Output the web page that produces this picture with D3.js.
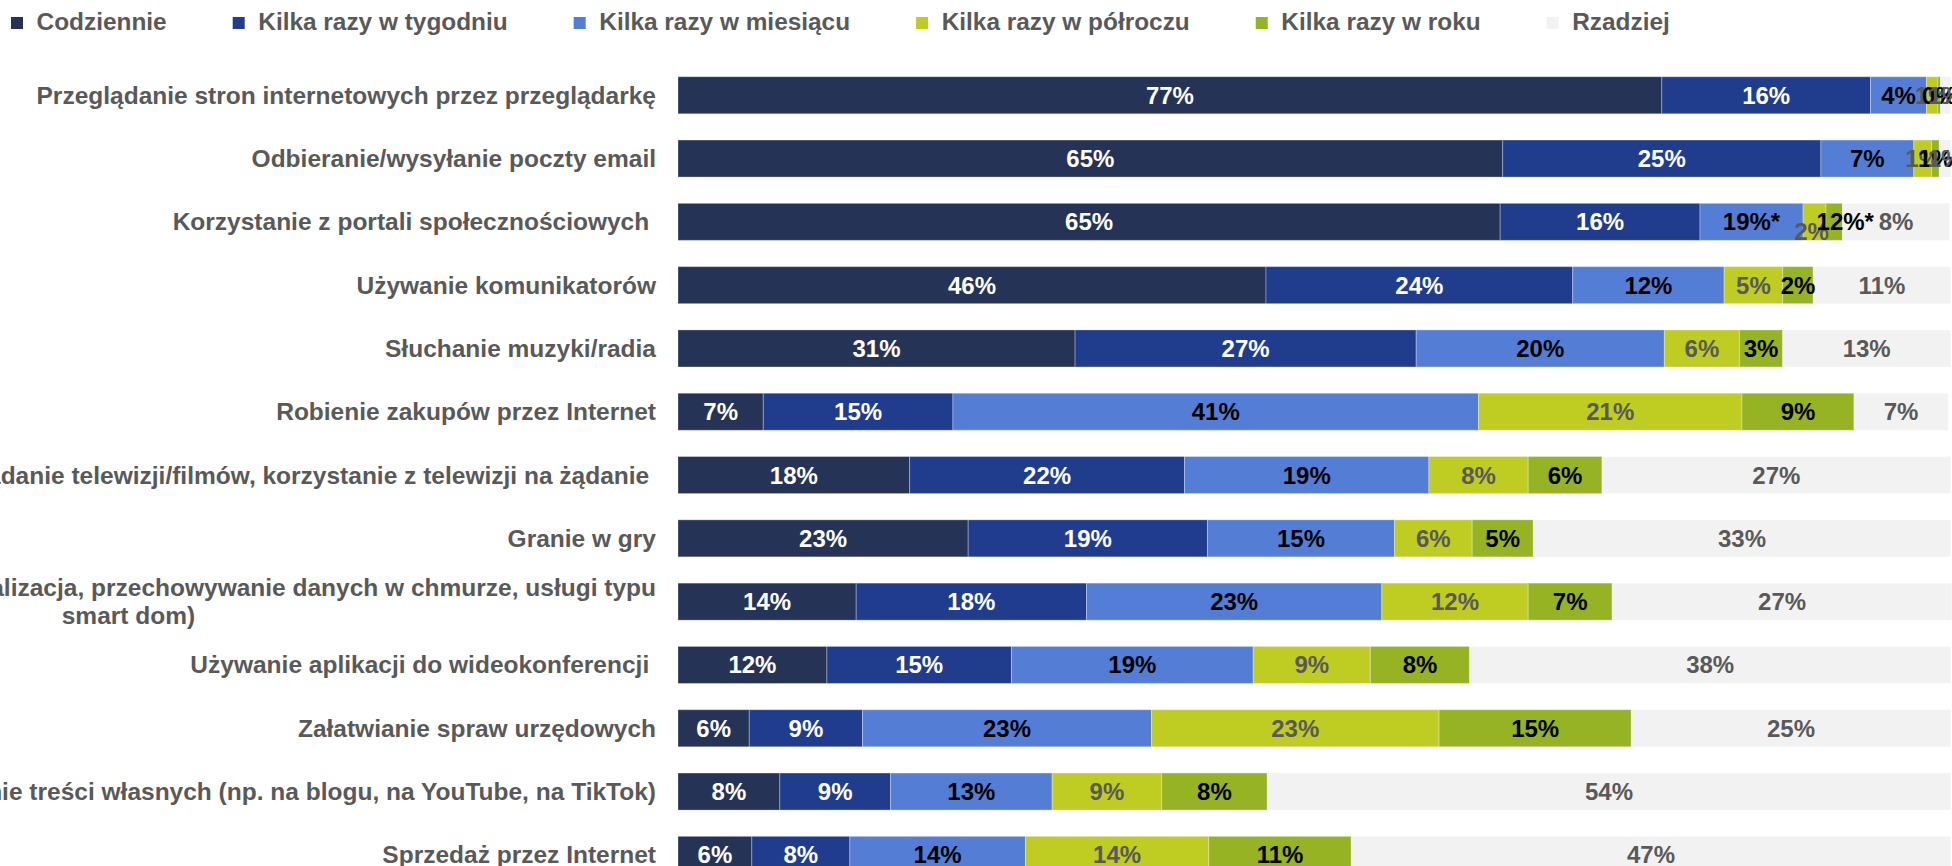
<!DOCTYPE html>
<html>
<head>
<meta charset="utf-8">
<script src="https://cdn.jsdelivr.net/npm/d3@7"></script>
<style>
  body { margin: 0; background: #fff; overflow: hidden; }
  svg text { font-family: "Liberation Sans", Arial, sans-serif; font-weight: bold; }
</style>
</head>
<body>
<svg id="chart" width="1952" height="866"></svg>
<script>
// categories (top to bottom), "\n" marks a forced line break
var categories = [
    "Przeglądanie stron internetowych przez przeglądarkę",
    "Odbieranie/wysyłanie poczty email",
    "Korzystanie z portali społecznościowych ",
    "Używanie komunikatorów",
    "Słuchanie muzyki/radia",
    "Robienie zakupów przez Internet",
    "Oglądanie telewizji/filmów, korzystanie z telewizji na żądanie ",
    "Granie w gry",
    "Korzystanie z e-usług (np. geolokalizacja, przechowywanie danych w chmurze, usługi typu\nsmart dom)",
    "Używanie aplikacji do wideokonferencji ",
    "Załatwianie spraw urzędowych",
    "Tworzenie/udostępnianie treści własnych (np. na blogu, na YouTube, na TikTok)",
    "Sprzedaż przez Internet"
];

var seriesNames = ["Codziennie", "Kilka razy w tygodniu", "Kilka razy w miesiącu",
                   "Kilka razy w półroczu", "Kilka razy w roku", "Rzadziej"];

// shares in %
var codziennie  = [77.3, 64.8, 64.6, 46.2, 31.2,  6.7, 18.2, 22.8, 14.0, 11.7,  5.6,  8.0,  5.8];
var tygodniowo  = [16.4, 25.0, 15.7, 24.1, 26.8, 14.9, 21.6, 18.8, 18.1, 14.5,  8.9,  8.7,  7.7];
var miesiecznie = [ 4.4,  7.3,  8.1, 11.9, 19.5, 41.3, 19.2, 14.7, 23.2, 19.0, 22.7, 12.7, 13.8];
var polrocznie  = [ 0.9,  1.4,  1.8,  4.6,  5.9, 20.7,  7.8,  6.1, 11.5,  9.2, 22.6,  8.6, 14.4];
var rocznie     = [ 0.2,  0.6,  1.3,  2.4,  3.4,  8.8,  5.8,  4.8,  6.6,  7.8, 15.1,  8.3, 11.2];
var rzadziej    = [ 0.8,  0.9,  8.4, 10.8, 13.2,  7.4, 27.4, 32.8, 26.7, 37.8, 25.1, 53.7, 47.1];

// labels printed in the source that differ from the bar length
var labelOverrides = [
    { row: 2, series: 2, text: "19%*" },
    { row: 2, series: 4, text: "12%*" }
];

var colors = ["#253356", "#1f3c8d", "#547ed6", "#bfcc22", "#95b322", "#f2f2f2"];
var labelColors = ["#ffffff", "#ffffff", "#000000", "#595959", "#000000", "#595959"];
// small label nudges in the crowded third row
var labelNudge = { "2-3": { dx: -3, dy: 10 }, "2-4": { dx: 11, dy: 0 } };

var allSeries = [codziennie, tygodniowo, miesiecznie, polrocznie, rocznie, rzadziej];
var table = categories.map(function (c, i) {
    var row = { category: c };
    seriesNames.forEach(function (s, k) { row[s] = allSeries[k][i]; });
    return row;
});

var svg = d3.select("#chart");
var x = d3.scaleLinear().domain([0, 100]).range([678, 1950.7]);
var y = d3.scaleBand().domain(categories).range([63.6, 886.5])
    .paddingInner(0.415).paddingOuter(0.2075);

var stacked = d3.stack().keys(seriesNames)(table);

/*
 * bars
 */
var layers = svg.append("g").attr("class", "bars")
    .selectAll("g")
    .data(stacked)
    .enter().append("g")
    .attr("fill", function (d, k) { return colors[k]; });

layers.selectAll("rect")
    .data(function (d) { return d; })
    .enter().append("rect")
    .attr("x", function (d) { return x(d[0]); })
    .attr("y", function (d) { return y(d.data.category); })
    .attr("width", function (d) { return x(d[1]) - x(d[0]); })
    .attr("height", y.bandwidth())
    .attr("stroke", "#ffffff")
    .attr("stroke-opacity", 0.3)
    .attr("stroke-width", 1);

/*
 * value labels
 */
function labelText(d, k, i) {
    var o = labelOverrides.filter(function (l) { return l.row === i && l.series === k; });
    if (o.length) return o[0].text;
    return Math.round(d[1] - d[0]) + "%";
}

stacked.forEach(function (layer, k) {
    svg.append("g").attr("class", "values")
        .selectAll("text")
        .data(layer)
        .enter().append("text")
        .attr("x", function (d, i) {
            var n = labelNudge[i + "-" + k];
            return (x(d[0]) + x(d[1])) / 2 + (n ? n.dx : 0);
        })
        .attr("y", function (d, i) {
            var n = labelNudge[i + "-" + k];
            return y(d.data.category) + y.bandwidth() / 2 + 8.5 + (n ? n.dy : 0);
        })
        .attr("text-anchor", "middle")
        .style("font-size", "24px")
        .attr("fill", labelColors[k])
        .text(function (d, i) { return labelText(d, k, i); });
});

/*
 * category labels, right aligned; wrapped ones are centred on their first line
 */
var labelRight = 656;
var catG = svg.append("g").attr("class", "categories");
categories.forEach(function (c) {
    var lines = c.split("\n");
    var cy = y(c) + y.bandwidth() / 2;
    var t = catG.append("text")
        .attr("xml:space", "preserve")
        .style("white-space", "pre")
        .style("font-size", "24.5px")
        .attr("fill", "#595959");
    if (lines.length === 1) {
        t.attr("x", labelRight).attr("y", cy + 8.5).attr("text-anchor", "end").text(c);
        return;
    }
    var first = t.append("tspan").text(lines[0]);
    var w = first.node().getComputedTextLength();
    var mid = labelRight - w / 2;
    t.attr("text-anchor", "middle");
    lines.forEach(function (line, j) {
        var span = j === 0 ? first : t.append("tspan").text(line);
        span.attr("x", mid).attr("y", cy + 8.5 + (j - (lines.length - 1) / 2) * 28);
    });
});

/*
 * legend
 */
var legend = svg.append("g").attr("class", "legend");
var lx = 11;
seriesNames.forEach(function (s, k) {
    legend.append("rect")
        .attr("x", lx).attr("y", 17)
        .attr("width", 12).attr("height", 12)
        .attr("fill", colors[k]);
    var t = legend.append("text")
        .attr("x", lx + 25.6).attr("y", 30)
        .style("font-size", "24.4px")
        .attr("fill", "#595959")
        .text(s);
    lx = lx + 25.6 + t.node().getComputedTextLength() + 66;
});
</script>
</body>
</html>
